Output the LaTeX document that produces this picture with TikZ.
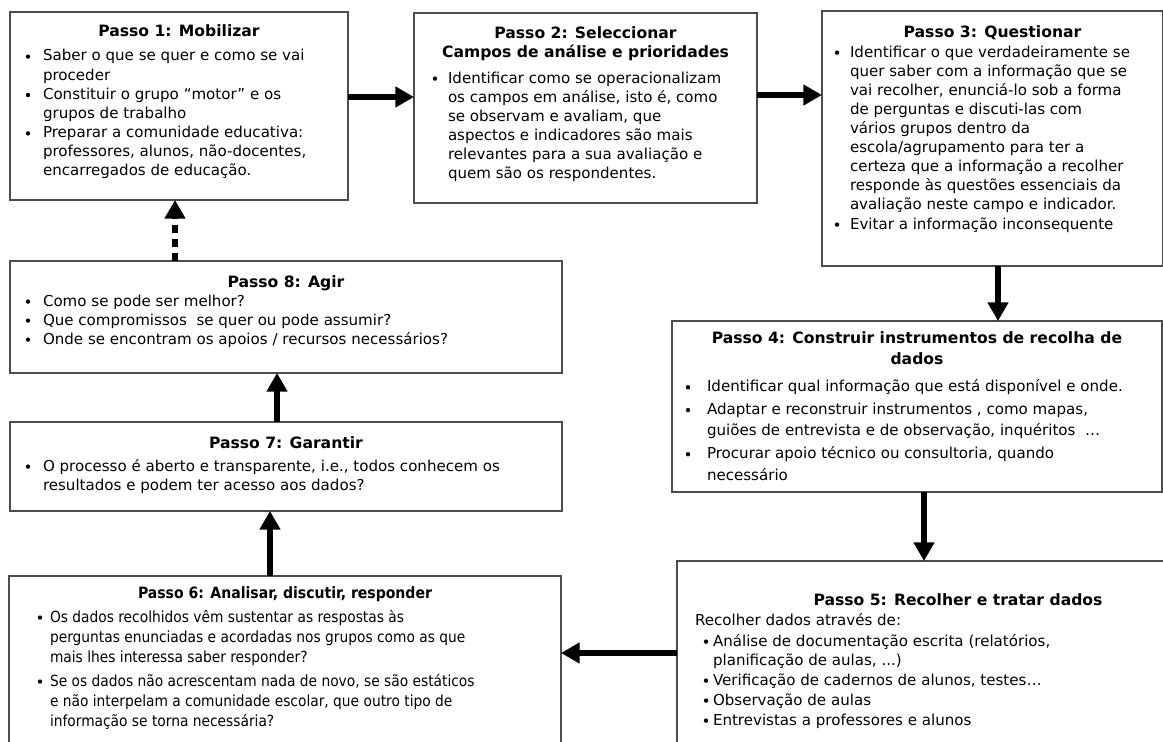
\documentclass[tikz,border=0pt]{standalone}
\usepackage{fontspec}
\setmainfont{DejaVu Sans}
\newfontfamily\narrowfont{DejaVu Sans Condensed}
\usetikzlibrary{arrows.meta}

% one unit of the drawing grid
\newlength\pxu
\setlength\pxu{0.75pt}
\newlength\bulletpos

% body of a box: width, height, content (top aligned)
\newcommand\boxbody[3]{%
  \begin{minipage}[c][#2\pxu][t]{#1\pxu}#3\end{minipage}}

% centred bold heading; first baseline #1 units below the top edge
\newcommand\titlesize{}
\newcommand\boxtitle[2]{{\centering\bfseries\titlesize\rule{0pt}{#1\pxu}#2\par}}

% round list bullet sitting in the middle of the x-height
\newcommand\stepbullet{\tikz[baseline=0pt]\fill (0pt,3.3pt) circle[radius=1.65pt];}

% bullet list: text indent, bullet centre, extra space between items
\newenvironment{steplist}[3]{%
  \setlength\bulletpos{#2\pxu}%
  \list{\stepbullet}{%
    \setlength\leftmargin{#1\pxu}%
    \setlength\labelwidth{#1\pxu}%
    \setlength\labelsep{0pt}%
    \setlength\itemindent{0pt}%
    \setlength\rightmargin{0pt}%
    \setlength\itemsep{#3\pxu}%
    \setlength\parsep{0pt}%
    \setlength\topsep{0pt}%
    \setlength\partopsep{0pt}%
    \def\makelabel##1{\makebox[\labelwidth][l]{\hspace*{\bulletpos}\makebox[0pt]{##1}}}}%
  \raggedright}{\endlist}

\tikzset{
  stepframe/.style={draw=black!70, line width=0.8pt, fill=white, inner sep=0pt,
    outer sep=0pt, anchor=north west, font=\fontsize{11.3pt}{14.25pt}\selectfont},
  flow/.style={line width=4.6pt, -{Triangle[length=14pt,width=15pt]}},
  flowdash/.style={flow, dash pattern=on 6pt off 4.5pt}
}

\begin{document}
\begin{tikzpicture}[x=0.75pt,y=-0.75pt]
\fill[white] (0,0) rectangle (1163,742);
\useasboundingbox (0,0) rectangle (1163,742);
\renewcommand\titlesize{\fontsize{11.7pt}{14.25pt}\selectfont}

\node[stepframe] (b1) at (10,12) {\boxbody{338}{188}{%
  \boxtitle{25}{Passo 1: Mobilizar}\vspace{5\pxu}
  \begin{steplist}{33}{18}{0.4}
  \item Saber o que se quer e como se vai\\ proceder
  \item Constituir o grupo “motor” e os\\ grupos de trabalho
  \item Preparar a comunidade educativa:\\ professores, alunos, não-docentes,\\ encarregados de educação.
  \end{steplist}}};

\node[stepframe] (b2) at (414,13) {\boxbody{343}{190}{%
  \boxtitle{25}{Passo 2: Seleccionar\\ Campos de análise e prioridades}\vspace{7\pxu}
  \begin{steplist}{34}{21}{0.5}
  \item Identificar como se operacionalizam\\ os campos em análise, isto é, como\\ se observam e avaliam, que\\ aspectos e indicadores são mais\\ relevantes para a sua avaliação e\\ quem são os respondentes.
  \end{steplist}}};

\node[stepframe] (b3) at (822,11) {\boxbody{341}{255}{%
  \boxtitle{26}{Passo 3: Questionar}\vspace{1\pxu}
  \begin{steplist}{28}{15}{1}
  \item Identificar o que verdadeiramente se\\ quer saber com a informação que se\\ vai recolher, enunciá-lo sob a forma\\ de perguntas e discuti-las com\\ vários grupos dentro da\\ escola/agrupamento para ter a\\ certeza que a informação a recolher\\ responde às questões essenciais da\\ avaliação neste campo e indicador.
  \item Evitar a informação inconsequente
  \end{steplist}}};

\node[stepframe, font=\fontsize{11.3pt}{16pt}\selectfont] (b4) at (672,321) {\boxbody{490}{171}{%
  \boxtitle{22}{\fontsize{11.7pt}{16pt}\selectfont Passo 4: Construir instrumentos de recolha de\\ dados}\vspace{6\pxu}
  \begin{steplist}{35}{16}{1.5}
  \item Identificar qual informação que está disponível e onde.
  \item Adaptar e reconstruir instrumentos , como mapas,\\ guiões de entrevista e de observação, inquéritos \ …
  \item Procurar apoio técnico ou consultoria, quando\\ necessário
  \end{steplist}}};

\node[stepframe] (b5) at (677,561) {\boxbody{562}{220}{%
  \boxtitle{44}{Passo 5: Recolher e tratar dados}\vspace{1\pxu}
  \hspace*{18\pxu}Recolher dados através de:\par\vspace{2\pxu}
  \begin{steplist}{36}{29}{1}
  \item Análise de documentação escrita (relatórios,\\ planificação de aulas, ...)
  \item Verificação de cadernos de alunos, testes…
  \item Observação de aulas
  \item Entrevistas a professores e alunos
  \end{steplist}}};

\node[stepframe, font=\narrowfont\fontsize{11.5pt}{15pt}\selectfont] (b6) at (9,576) {\boxbody{552}{200}{%
  \boxtitle{22}{\fontsize{11.7pt}{15pt}\selectfont Passo 6: Analisar, discutir, responder}\vspace{4\pxu}
  \begin{steplist}{41}{31}{4}
  \item Os dados recolhidos vêm sustentar as respostas às\\ perguntas enunciadas e acordadas nos grupos como as que\\ mais lhes interessa saber responder?
  \item Se os dados não acrescentam nada de novo, se são estáticos\\ e não interpelam a comunidade escolar, que outro tipo de\\ informação se torna necessária?
  \end{steplist}}};

\node[stepframe] (b7) at (10,422) {\boxbody{552}{89}{%
  \boxtitle{26}{Passo 7: Garantir}\vspace{4\pxu}
  \begin{steplist}{33}{18}{0.5}
  \item O processo é aberto e transparente, i.e., todos conhecem os\\ resultados e podem ter acesso aos dados?
  \end{steplist}}};

\node[stepframe] (b8) at (10,261) {\boxbody{552}{112}{%
  \boxtitle{26}{Passo 8: Agir}\vspace{0\pxu}
  \begin{steplist}{33}{18}{0}
  \item Como se pode ser melhor?
  \item Que compromissos \ se quer ou pode assumir?
  \item Onde se encontram os apoios / recursos necessários?
  \end{steplist}}};

% flow of the cycle
\draw[flow] (b1.east |- 0,97) -- (b2.west |- 0,97);
\draw[flow] (b2.east |- 0,95) -- (b3.west |- 0,95);
\draw[flow] (b3.south -| 998,0) -- (b4.north -| 998,0);
\draw[flow] (b4.south -| 924,0) -- (b5.north -| 924,0);
\draw[flow] (b5.west |- 0,653) -- (b6.east |- 0,653);
\draw[flow] (b6.north -| 270,0) -- (b7.south -| 270,0);
\draw[flow] (b7.north -| 277,0) -- (b8.south -| 277,0);
\draw[flowdash] (b8.north -| 175,0) -- (b1.south -| 175,0);
\end{tikzpicture}
\end{document}
